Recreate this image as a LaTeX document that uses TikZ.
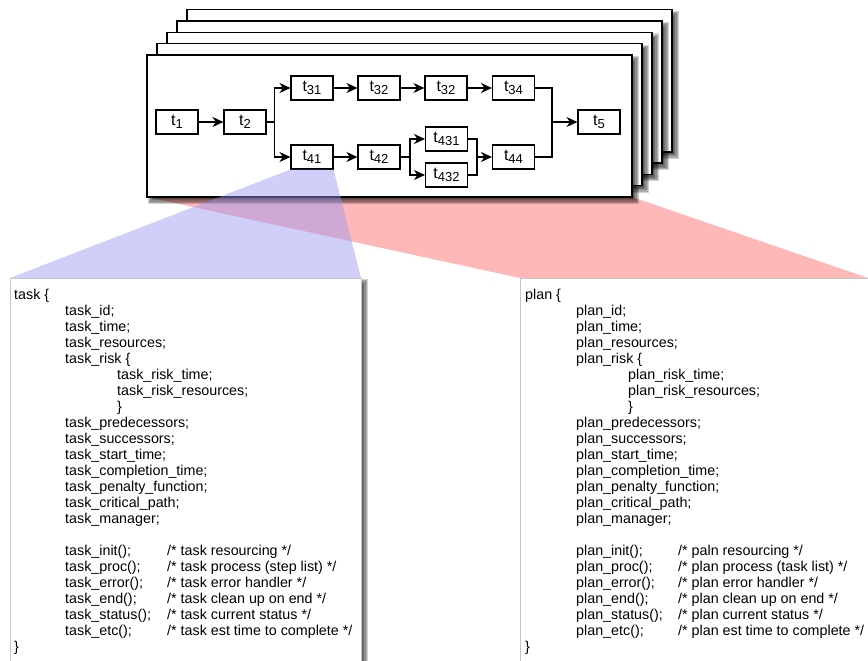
\documentclass[tikz,border=0pt]{standalone}
\usepackage{fontspec}
\setmainfont{Liberation Sans}
\usetikzlibrary{arrows.meta,calc}
\definecolor{redfill}{RGB}{255,184,184}
\definecolor{bluefill}{RGB}{150,150,245}
\newcommand\tsub[1]{t\raisebox{-2.5pt}{\fontsize{13}{13}\selectfont #1}}
\newcommand\Ia{\hspace*{51pt}}
\newcommand\Ib{\hspace*{103pt}}
\newcommand\Fn[2]{\Ia\makebox[102pt][l]{#1}#2}
\newcommand\softshadow[4]{%
  \foreach \e in {3,1.8,0.6,-0.6,-1.8,-3}{%
    \fill[black,opacity=0.18] ({#1+4-\e},{#2+4-\e}) rectangle ({#3+4+\e},{#4+4+\e});
  }}
\tikzset{
  card/.style={fill=white, draw=black, line width=1.4pt},
  tbox/.style={draw=black, line width=1.1pt, fill=white, minimum width=42pt,
    minimum height=24pt, inner sep=0pt, font=\fontsize{16}{18}\selectfont},
  arr/.style={line width=1.3pt, -{Stealth[length=11pt,width=10pt,inset=3.5pt]}},
  ln/.style={line width=1.3pt},
  code/.style={anchor=base west, inner sep=0pt, font=\fontsize{14.3}{16}\selectfont},
  paper/.style={fill=white, draw=gray!45, line width=0.8pt},
}
\begin{document}
\begin{tikzpicture}[x=1pt,y=-1pt]
\useasboundingbox (0,0) rectangle (868,661);
\clip (0,0) rectangle (868,661);
\fill[white] (0,0) rectangle (868,661);
% red fan (behind the cards)
\fill[redfill] (147,197) -- (632,197) -- (868,278) -- (520,278) -- cycle;
% stack of cards
\foreach \i in {4,3,2,1,0}{
  \pgfmathsetmacro\xa{147+10*\i}
  \pgfmathsetmacro\ya{55-11.3*\i}
  \pgfmathsetmacro\xb{632+10*\i}
  \pgfmathsetmacro\yb{197-11.3*\i}
  \softshadow{\xa}{\ya}{\xb}{\yb}
  \draw[card] (\xa,\ya) rectangle (\xb,\yb);
}
% task nodes
\node[tbox] (t1)   at (177,122)   {\tsub{1}};
\node[tbox] (t2)   at (245,122)   {\tsub{2}};
\node[tbox] (t31)  at (312,88)    {\tsub{31}};
\node[tbox] (t32a) at (379,88)    {\tsub{32}};
\node[tbox] (t32b) at (446,88)    {\tsub{32}};
\node[tbox] (t34)  at (513.5,88)  {\tsub{34}};
\node[tbox] (t5)   at (599,122)   {\tsub{5}};
\node[tbox] (t41)  at (312,157)   {\tsub{41}};
\node[tbox] (t42)  at (379,157)   {\tsub{42}};
\node[tbox] (t431) at (446.5,139) {\tsub{431}};
\node[tbox] (t432) at (446.5,175) {\tsub{432}};
\node[tbox] (t44)  at (513.5,157) {\tsub{44}};
\coordinate (j1) at (274.5,122);
\coordinate (j2) at (410,157);
\coordinate (j3) at (477,157);
\coordinate (j4) at (552,122);
% connectors
\draw[arr] (t1) -- (t2);
\draw[ln] (t2.east) -- (j1);
\draw[arr] (j1) |- (t31);
\draw[arr] (j1) |- (t41);
\draw[arr] (t31) -- (t32a);
\draw[arr] (t32a) -- (t32b);
\draw[arr] (t32b) -- (t34);
\draw[arr] (t41) -- (t42);
\draw[ln] (t42.east) -- (j2);
\draw[arr] (j2) |- (t431);
\draw[arr] (j2) |- (t432);
\draw[ln] (t431.east) -| (j3);
\draw[ln] (t432.east) -| (j3);
\draw[arr] (j3) -- (t44);
\draw[ln] (t34.east) -| (j4);
\draw[ln] (t44.east) -| (j4);
\draw[arr] (j4) -- (t5);
% blue fan (over the front card)
\fill[bluefill,opacity=0.45] (t41.south west) -- (t41.south east) -- (361,278) -- (10,278) -- cycle;
% code sheets
\softshadow{10}{278}{361}{720}
\draw[paper] (10,278) rectangle (361,720);
\draw[paper] (520,278) rectangle (890,720);
\node[code] (taskcode) at (14,299) {\begin{tabular}[t]{@{}l@{}}
task \{\\
\Ia task\_id;\\
\Ia task\_time;\\
\Ia task\_resources;\\
\Ia task\_risk \{\\
\Ib task\_risk\_time;\\
\Ib task\_risk\_resources;\\
\Ib \}\\
\Ia task\_predecessors;\\
\Ia task\_successors;\\
\Ia task\_start\_time;\\
\Ia task\_completion\_time;\\
\Ia task\_penalty\_function;\\
\Ia task\_critical\_path;\\
\Ia task\_manager;\\
\\
\Fn{task\_init();}{/* task resourcing */}\\
\Fn{task\_proc();}{/* task process (step list) */}\\
\Fn{task\_error();}{/* task error handler */}\\
\Fn{task\_end();}{/* task clean up on end */}\\
\Fn{task\_status();}{/* task current status */}\\
\Fn{task\_etc();}{/* task est time to complete */}\\
\}
\end{tabular}};
\node[code] (plancode) at (525,299) {\begin{tabular}[t]{@{}l@{}}
plan \{\\
\Ia plan\_id;\\
\Ia plan\_time;\\
\Ia plan\_resources;\\
\Ia plan\_risk \{\\
\Ib plan\_risk\_time;\\
\Ib plan\_risk\_resources;\\
\Ib \}\\
\Ia plan\_predecessors;\\
\Ia plan\_successors;\\
\Ia plan\_start\_time;\\
\Ia plan\_completion\_time;\\
\Ia plan\_penalty\_function;\\
\Ia plan\_critical\_path;\\
\Ia plan\_manager;\\
\\
\Fn{plan\_init();}{/* paln resourcing */}\\
\Fn{plan\_proc();}{/* plan process (task list) */}\\
\Fn{plan\_error();}{/* plan error handler */}\\
\Fn{plan\_end();}{/* plan clean up on end */}\\
\Fn{plan\_status();}{/* plan current status */}\\
\Fn{plan\_etc();}{/* plan est time to complete */}\\
\}
\end{tabular}};
\end{tikzpicture}
\end{document}
